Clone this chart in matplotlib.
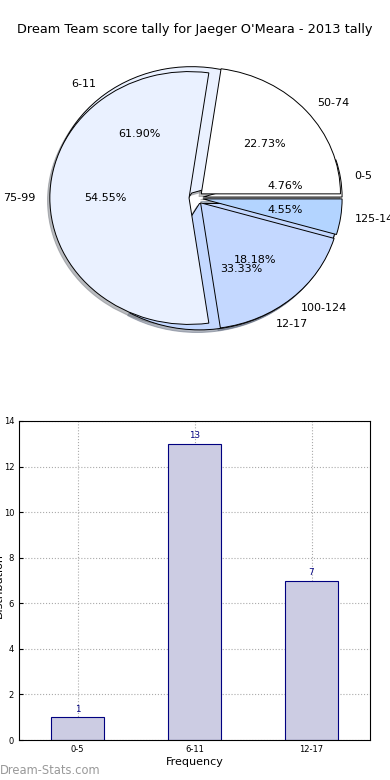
import matplotlib
matplotlib.use("Agg")
import matplotlib.pyplot as plt

title = "Dream Team score tally for Jaeger O'Meara - 2013 tally"

# pie 1 (frequency of tallies)
pie1_labels = ["0-5", "6-11", "12-17"]
pie1_values = [1, 13, 7]
# pie 2
pie2_labels = ["50-74", "75-99", "100-124", "125-149"]
pie2_values = [5, 12, 4, 1]

# bar chart
bar_categories = ["0-5", "6-11", "12-17"]
bar_values = [1, 13, 7]

colors = ["#ffffff", "#eaf1ff", "#c4d8ff", "#b3d4ff"]

fig = plt.figure(figsize=(3.9, 7.8), dpi=100)
fig.text(0.5, 1 - 30 / 780, title, ha="center", va="center", fontsize=9.3)

# ---- pie axes ----
axp = fig.add_axes([22 / 390, 1 - 356 / 780, 348 / 390, 316 / 780])
for labels, values in ((pie1_labels, pie1_values), (pie2_labels, pie2_values)):
    wedges, texts, autotexts = axp.pie(
        values, labels=labels, colors=colors[:len(values)],
        explode=[0.05] * len(values), autopct="%.2f%%",
        shadow=dict(ox=-0.012, oy=-0.015, shade=0.5),
        startangle=0, wedgeprops=dict(edgecolor="black", linewidth=0.7),
        textprops=dict(fontsize=8))
axp.set_aspect("auto")
axp.set_xlim(-1.25, 1.25)
axp.set_ylim(-1.25, 1.25)

# ---- bar axes ----
axb = fig.add_axes([19 / 390, 40 / 780, 351 / 390, 319 / 780])
x = list(range(len(bar_categories)))
bars = axb.bar(x, bar_values, width=0.45, color="#cccce3", edgecolor="#000080",
               linewidth=0.8, zorder=2)
for xi, v in zip(x, bar_values):
    axb.text(xi, v + 0.15, str(v), ha="center", va="bottom", fontsize=6.3,
             color="#000080")
axb.set_xlim(-0.5, 2.5)
axb.set_ylim(0, 14)
axb.set_yticks(range(0, 15, 2))
axb.set_xticks(x)
axb.set_xticklabels(bar_categories)
axb.tick_params(direction="in", labelsize=6, length=3)
axb.grid(True, linestyle=":", color="#aaaaaa", linewidth=0.8, zorder=0)
axb.set_axisbelow(True)
axb.set_xlabel("Frequency", fontsize=8, labelpad=2)
fig.text(-1.5 / 390, 1 - 585 / 780, "Distribution", rotation=90, ha="center",
         va="center", fontsize=8)

fig.text(0.0, 1 - 770 / 780, "Dream-Stats.com", ha="left", va="center",
         fontsize=8.3, color="#999999")

fig.savefig("out.png", dpi=100)
